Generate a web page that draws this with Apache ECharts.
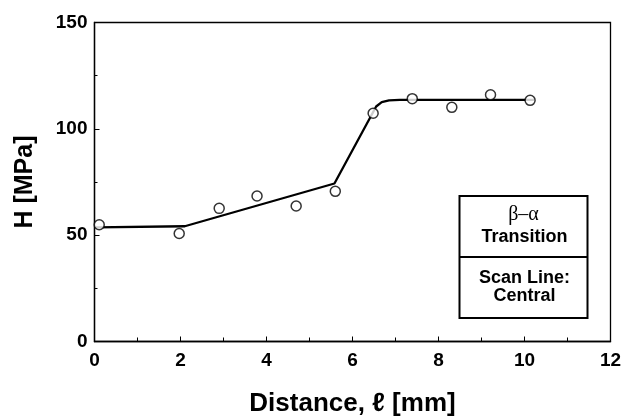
<!DOCTYPE html>
<html>
<head>
<meta charset="utf-8">
<script src="https://cdn.jsdelivr.net/npm/echarts@6/dist/echarts.min.js"></script>
<style>
html,body{margin:0;padding:0;background:#fff;}
#c{width:621px;height:416px;}
</style>
</head>
<body>
<div id="c"></div>
<script>
// measured points (distance mm, hardness MPa)
var pointX = [0.11, 1.97, 2.90, 3.78, 4.69, 5.60, 6.48, 7.39, 8.31, 9.21, 10.13];
var pointY = [54.9, 50.8, 62.6, 68.4, 63.7, 70.6, 107.3, 114.2, 110.1, 116.0, 113.4];
// fitted trend line
var lineX = [0.03, 2.10, 5.58, 6.55, 6.68, 6.85, 7.10, 10.22];
var lineY = [53.7, 54.2, 74.3, 110.5, 112.6, 113.4, 113.6, 113.6];
// axis ticks
var xTicks = [0, 2, 4, 6, 8, 10, 12];
var yTicks = [0, 50, 100, 150];

var FONT = '"Liberation Sans", Arial, Helvetica, sans-serif';

var pts = pointX.map(function (x, i) { return [x, pointY[i]]; });
var ln = lineX.map(function (x, i) { return [x, lineY[i]]; });

var chart = echarts.init(document.getElementById('c'), null, {renderer: 'canvas'});
chart.setOption({
  animation: false,
  backgroundColor: '#fff',
  grid: {
    left: 94.5, right: 10.5, top: 22.5, bottom: 74.5,
    outerBoundsMode: 'none', containLabel: false,
    show: true, borderColor: '#000', borderWidth: 1.3, backgroundColor: 'transparent'
  },
  xAxis: {
    type: 'value', min: xTicks[0], max: xTicks[xTicks.length - 1], interval: 2,
    name: 'Distance, \u2113 [mm]', nameLocation: 'middle', nameGap: 49,
    nameTextStyle: {fontFamily: FONT, fontWeight: 'bold', fontSize: 26, color: '#000'},
    axisLine: {show: true, onZero: false, lineStyle: {color: '#000', width: 1.3}},
    axisTick: {show: true, inside: true, length: 5, lineStyle: {color: '#000', width: 1}},
    minorTick: {show: true, splitNumber: 2, length: 4, lineStyle: {color: '#000', width: 1}},
    splitLine: {show: false},
    axisLabel: {fontFamily: FONT, fontWeight: 'bold', fontSize: 19, color: '#000', margin: 10}
  },
  yAxis: {
    type: 'value', min: yTicks[0], max: yTicks[yTicks.length - 1], interval: 50,
    name: 'H [MPa]', nameLocation: 'middle', nameGap: 57, nameRotate: 90,
    nameTextStyle: {fontFamily: FONT, fontWeight: 'bold', fontSize: 25, color: '#000'},
    axisLine: {show: true, onZero: false, lineStyle: {color: '#000', width: 1.3}},
    axisTick: {show: true, inside: true, length: 5, lineStyle: {color: '#000', width: 1}},
    minorTick: {show: true, splitNumber: 2, length: 3, lineStyle: {color: '#000', width: 1}},
    splitLine: {show: false},
    axisLabel: {fontFamily: FONT, fontWeight: 'bold', fontSize: 19, color: '#000', margin: 7}
  },
  series: [
    {
      type: 'line', data: ln, showSymbol: false, symbol: 'none', smooth: false,
      lineStyle: {color: '#000', width: 2.3}, z: 2
    },
    {
      type: 'scatter', data: pts, symbol: 'circle', symbolSize: 10,
      itemStyle: {color: '#fff', borderColor: '#000', borderWidth: 1.5}, z: 3
    }
  ],
  graphic: [
    {
      type: 'group', left: 457, top: 195,
      children: [
        {type: 'rect', shape: {x: 0, y: 0, width: 128, height: 122},
         style: {fill: '#fff', stroke: '#000', lineWidth: 2}},
        {type: 'line', shape: {x1: 0, y1: 61, x2: 128, y2: 61},
         style: {stroke: '#000', lineWidth: 2}},
        {type: 'text', x: 64, y: 19,
         style: {text: '\u03B2\u2013\u03B1', fill: '#000', font: '20px "Liberation Serif", "Times New Roman", serif',
                 align: 'center', verticalAlign: 'middle'}},
        {type: 'text', x: 65, y: 41,
         style: {text: 'Transition', fill: '#000', font: 'bold 18px ' + FONT,
                 align: 'center', verticalAlign: 'middle'}},
        {type: 'text', x: 65, y: 82,
         style: {text: 'Scan Line:', fill: '#000', font: 'bold 18px ' + FONT,
                 align: 'center', verticalAlign: 'middle'}},
        {type: 'text', x: 65, y: 100.5,
         style: {text: 'Central', fill: '#000', font: 'bold 18px ' + FONT,
                 align: 'center', verticalAlign: 'middle'}}
      ]
    }
  ]
});
</script>
</body>
</html>
